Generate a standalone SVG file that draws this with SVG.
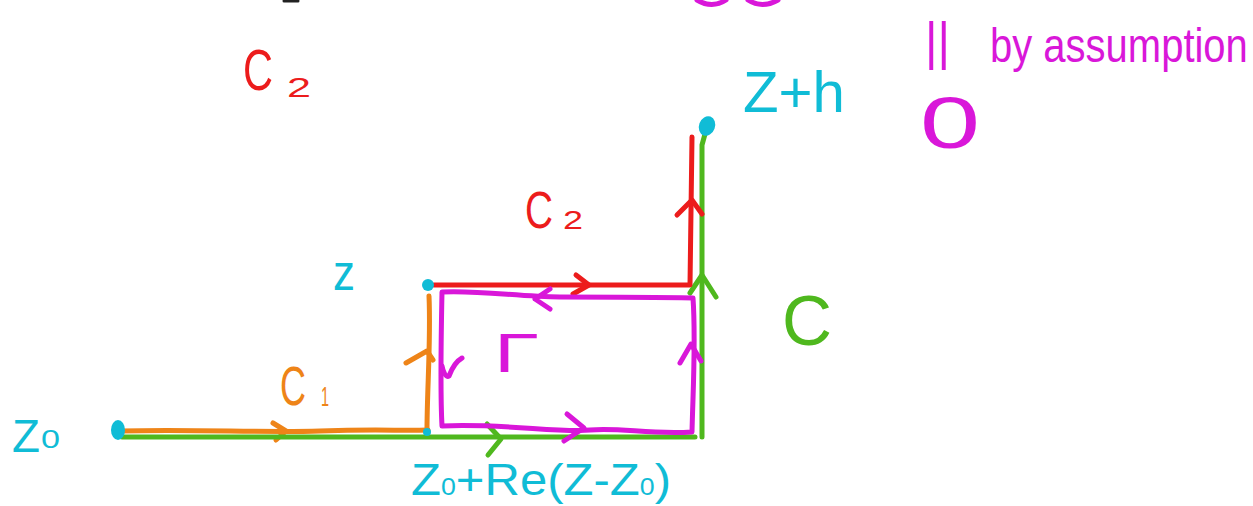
<svg xmlns="http://www.w3.org/2000/svg" width="1253" height="506" viewBox="0 0 1253 506">
<style>
.s{fill:none;stroke-width:5;stroke-linecap:round;stroke-linejoin:round}
.red{stroke:#ec1c1c}.grn{stroke:#4fb81e}.org{stroke:#ee8418}.mag{stroke:#d917d9}.cyn{stroke:#10bcd6}
.t{font-family:"Liberation Sans","Noto Sans",sans-serif}
.tr{fill:#ec1c1c}.tg{fill:#4fb81e}.to{fill:#ee8418}.tm{fill:#d917d9}.tc{fill:#10bcd6}
</style>
<rect width="1253" height="506" fill="#ffffff"/>
<g id="edge-marks">
<path class="s mag" d="M697,0 Q712,9 726,0 M748,0 Q762,9 778,0"/>
<path d="M284,1 L298,1" stroke="#222" stroke-width="3" stroke-linecap="round"/>
</g>
<g id="connectors">
<g id="c1-orange">
<path class="s org" d="M120,431 C200,429 260,433 320,431 S400,431 428,430"/>
<path class="s org" d="M273,423 L286,431 L276,440"/>
<path class="s org" d="M429,296 C431,340 427,390 427,430"/>
<path class="s org" d="M406,363 L427,351 L433,360"/>
</g>
<g id="c-green">
<path class="s grn" d="M122,437 L695,437"/>
<path class="s grn" d="M487,424 L501,439 L488,455"/>
<path class="s grn" d="M702,437 L702,145 L705,134"/>
<path class="s grn" d="M690,293 L702,275 L716,297"/>
</g>
<g id="c2-red">
<path class="s red" d="M434,285 L690,285 L692,137"/>
<path class="s red" d="M576,275 L589,285 L573,294"/>
<path class="s red" d="M677,215 L692,200 L702,214"/>
</g>
<g id="gamma-magenta">
<path class="s mag" d="M442,292 C480,290 520,297 560,297 S650,297 693,298 C696,340 693,390 692,432 C650,435 620,427 590,430 S500,423 442,426 C440,390 441,340 442,292 Z"/>
<path class="s mag" d="M550,289 L535,299 L550,309"/>
<path class="s mag" d="M462,358 C455,362 452,368 449,376 C446,378 443,372 442,366"/>
<path class="s mag" d="M680,363 L691,344 L701,361"/>
<path class="s mag" d="M567,414 L584,428 L564,441"/>
</g>
</g>
<g id="node-z0"><ellipse cx="118" cy="430" rx="7" ry="10" fill="#10bcd6"/></g>
<g id="node-z"><ellipse cx="428" cy="285" rx="6" ry="6" fill="#10bcd6"/></g>
<g id="node-zre"><circle cx="427" cy="432" r="4" fill="#10bcd6"/></g>
<g id="node-zh"><ellipse cx="707" cy="126" rx="8" ry="10" transform="rotate(20 707 126)" fill="#10bcd6"/></g>
<g id="labels">
<text class="t tr" x="243" y="90" font-size="58" textLength="30" lengthAdjust="spacingAndGlyphs">C</text>
<text class="t tr" x="287" y="97" font-size="28" textLength="24" lengthAdjust="spacingAndGlyphs">2</text>
<text class="t tc" x="743" y="112" font-size="58" textLength="102" lengthAdjust="spacingAndGlyphs">Z+h</text>
<text class="t tr" x="525" y="228" font-size="52" textLength="28" lengthAdjust="spacingAndGlyphs">C</text>
<text class="t tr" x="563" y="229" font-size="25" textLength="20" lengthAdjust="spacingAndGlyphs">2</text>
<text class="t tc" x="333" y="290" font-size="52" textLength="22" lengthAdjust="spacingAndGlyphs">z</text>
<text class="t tg" x="782" y="345" font-size="70" textLength="50" lengthAdjust="spacingAndGlyphs">C</text>
<text class="t to" x="280" y="405" font-size="55" textLength="26" lengthAdjust="spacingAndGlyphs">C</text>
<text class="t to" x="321" y="406" font-size="28" textLength="8" lengthAdjust="spacingAndGlyphs">1</text>
<text class="t tm" x="494" y="372" font-size="56" textLength="45" lengthAdjust="spacingAndGlyphs">Γ</text>
<text class="t tc" x="12" y="452" font-size="47" textLength="28" lengthAdjust="spacingAndGlyphs">Z</text>
<text class="t tc" x="41" y="448" font-size="25" textLength="19" lengthAdjust="spacingAndGlyphs">0</text>
<text class="t tc" x="411" y="495" font-size="44" textLength="260" lengthAdjust="spacingAndGlyphs">Z<tspan font-size="24">0</tspan>+Re(Z-Z<tspan font-size="24">0</tspan>)</text>
<text class="t tm" x="925" y="59" font-size="52" textLength="25" lengthAdjust="spacingAndGlyphs">||</text>
<text class="t tm" transform="translate(990,62) scale(1,1.2)" x="0" y="0" font-size="40">by assumption</text>
<text class="t tm" x="920" y="148" font-size="72" textLength="60" lengthAdjust="spacingAndGlyphs">0</text>
</g>
</svg>
